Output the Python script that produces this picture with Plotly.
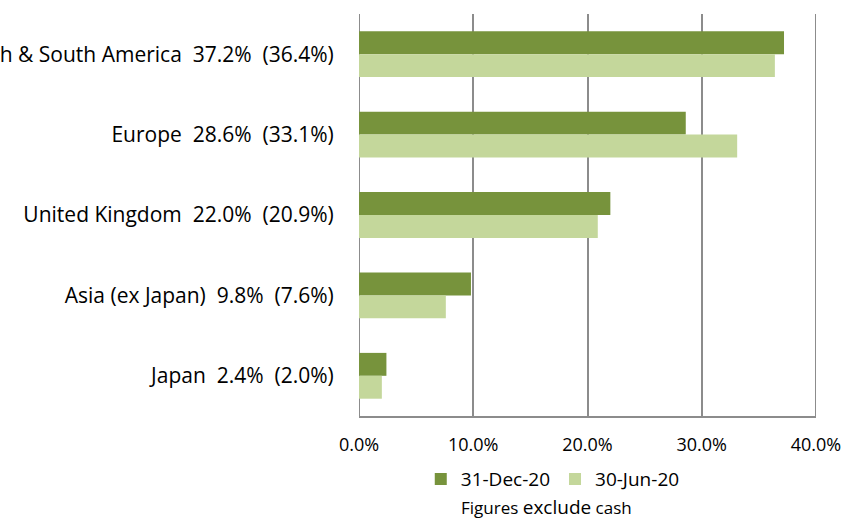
import plotly.graph_objects as go

regions = ["North & South America", "Europe", "United Kingdom", "Asia (ex Japan)", "Japan"]
dec_20 = [37.2, 28.6, 22.0, 9.8, 2.4]
jun_20 = [36.4, 33.1, 20.9, 7.6, 2.0]
x_ticks = [0, 10, 20, 30, 40]
x_tick_labels = ["0.0%", "10.0%", "20.0%", "30.0%", "40.0%"]

NB = "\u00a0"
tick_text = [f"{r}{NB}{NB}{d:.1f}%{NB}{NB}({j:.1f}%)" for r, d, j in zip(regions, dec_20, jun_20)]

FONT = "Open Sans, sans-serif"
GRID = "#8C8C8C"

fig = go.Figure()
fig.add_trace(go.Bar(y=regions, x=dec_20, orientation="h", name="31-Dec-20",
                     marker=dict(color="#77933C", line=dict(width=0))))
fig.add_trace(go.Bar(y=regions, x=jun_20, orientation="h", name="30-Jun-20",
                     marker=dict(color="#C4D79B", line=dict(width=0))))

fig.update_layout(
    width=841, height=518,
    margin=dict(l=359, r=25, t=14, b=102, autoexpand=False),
    paper_bgcolor="white", plot_bgcolor="white",
    barmode="group", bargap=0.43, bargroupgap=0,
    font=dict(family=FONT, color="#000000"),
    showlegend=True,
    legend=dict(orientation="h", x=0.424, xanchor="center", y=-0.11, yanchor="top",
                font=dict(size=19, family=FONT), itemwidth=30, traceorder="normal",
                itemsizing="constant"),
    xaxis=dict(range=[0, 40], tickvals=x_ticks, ticktext=x_tick_labels,
               showgrid=True, gridcolor=GRID, gridwidth=2,
               showline=True, linecolor=GRID, linewidth=2,
               zeroline=False, tickfont=dict(size=18, family=FONT),
               ticklabeloverflow="allow",
               ticks="outside", ticklen=11, tickcolor="rgba(0,0,0,0)", fixedrange=True),
    yaxis=dict(categoryorder="array", categoryarray=regions, autorange="reversed",
               tickvals=regions, ticktext=tick_text,
               tickfont=dict(size=21, family=FONT),
               ticklabeloverflow="allow",
               showgrid=False, showline=False, zeroline=False,
               ticks="outside", ticklen=20, tickcolor="rgba(0,0,0,0)", fixedrange=True),
    annotations=[dict(text='<span style="font-size:17px">Figures </span>exclude<span style="font-size:17px"> cash</span>',
                      x=0.41, xref="paper", y=-0.226, yref="paper", xanchor="center", yanchor="middle",
                      showarrow=False, font=dict(size=19, family=FONT))],
)
for xv in (0, 40):
    fig.add_shape(type="line", xref="x", yref="paper", x0=xv, x1=xv, y0=0, y1=1,
                  line=dict(color=GRID, width=2), layer="below")

fig.write_html("out.html")
